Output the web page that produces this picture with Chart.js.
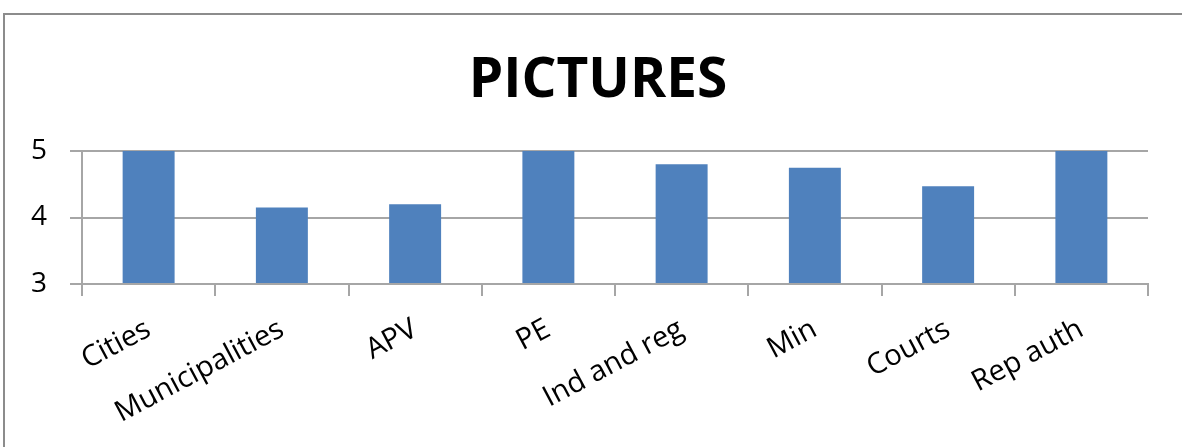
<!DOCTYPE html>
<html>
<head>
<meta charset="utf-8">
<script src="https://cdn.jsdelivr.net/npm/chart.js@4/dist/chart.umd.min.js"></script>
<style>
  html, body { margin: 0; padding: 0; background: #ffffff; }
  body { width: 1182px; height: 447px; position: relative; overflow: hidden; }
  .frame { position: absolute; left: 3px; top: 13px; width: 1200px; height: 460px;
           border-left: 2px solid #8c8c8c; border-top: 2px solid #8c8c8c; box-sizing: border-box; }
  .wrap { position: absolute; left: 0; top: 0; width: 1182px; height: 447px; }
</style>
</head>
<body>
<div class="frame"></div>
<div class="wrap"><canvas id="chart"></canvas></div>
<script>
const categories = ["Cities", "Municipalities", "APV", "PE", "Ind and reg", "Min", "Courts", "Rep auth"];
const scores = [5, 4.15, 4.2, 5, 4.8, 4.75, 4.47, 5];
const yTicks = [3, 4, 5];

const axisGray = "#a6a6a6";
const fontFamily = "'Open Sans', 'DejaVu Sans', sans-serif";

// The value axis is kept narrow so the title centres over the frame;
// widen its label clip region to the canvas edge so the tick numbers show.
const widenYLabelArea = {
  id: "widenYLabelArea",
  afterLayout(chart) { chart.scales.y.left = 0; }
};

new Chart(document.getElementById("chart"), {
  type: "bar",
  data: {
    labels: categories,
    datasets: [{
      data: scores,
      backgroundColor: "#4f81bd",
      borderWidth: 0,
      categoryPercentage: 1,
      barPercentage: 0.39,
      base: yTicks[0]
    }]
  },
  plugins: [widenYLabelArea],
  options: {
    responsive: true,
    maintainAspectRatio: false,
    animation: false,
    layout: { padding: { left: 48, right: 34, top: 0, bottom: 0 } },
    plugins: {
      legend: { display: false },
      tooltip: { enabled: false },
      title: {
        display: true,
        text: "PICTURES",
        color: "#000000",
        font: { family: fontFamily, size: 55, weight: "bold" },
        padding: { top: 48, bottom: 37 }
      }
    },
    scales: {
      x: {
        grid: { display: true, drawOnChartArea: false, offset: true, tickLength: 12, color: axisGray, lineWidth: 2 },
        border: { display: true, color: axisGray, width: 2 },
        ticks: {
          color: "#000000",
          font: { family: fontFamily, size: 29 },
          maxRotation: 28,
          minRotation: 28,
          autoSkip: false,
          padding: 16
        },
        afterFit(scale) { scale.height = 163; }
      },
      y: {
        min: yTicks[0],
        max: yTicks[yTicks.length - 1],
        afterBuildTicks(scale) { scale.ticks = yTicks.map(v => ({ value: v })); },
        grid: { color: axisGray, lineWidth: 2, tickLength: 12 },
        border: { display: true, color: axisGray, width: 2 },
        ticks: {
          color: "#000000",
          font: { family: fontFamily, size: 28 },
          padding: 23
        },
        afterFit(scale) { scale.width = 34; }
      }
    }
  }
});
</script>
</body>
</html>
